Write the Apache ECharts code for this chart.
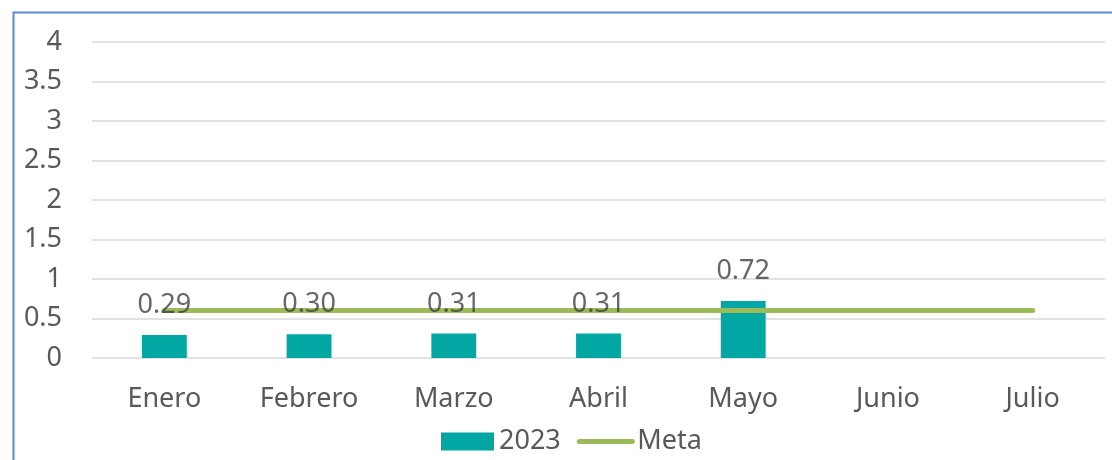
<!DOCTYPE html>
<html>
<head>
<meta charset="utf-8">
<script src="https://cdn.jsdelivr.net/npm/echarts@6/dist/echarts.min.js"></script>
<style>
  html, body { margin: 0; padding: 0; background: #fff; }
  #chart { width: 1112px; height: 460px; }
</style>
</head>
<body>
<div id="chart"></div>
<script>
// datos del grafico
var meses = ['Enero', 'Febrero', 'Marzo', 'Abril', 'Mayo', 'Junio', 'Julio'];
var valores2023 = [0.29, 0.30, 0.31, 0.31, 0.72, null, null];
var meta = [0.6, 0.6, 0.6, 0.6, 0.6, 0.6, 0.6];
var yTicks = [0, 0.5, 1, 1.5, 2, 2.5, 3, 3.5, 4];

var fuente = 'Noto Sans';
var gris = '#595959';
var tam = 27;

var myChart = echarts.init(document.getElementById('chart'));
myChart.setOption({
  animation: false,
  textStyle: { fontFamily: fuente },
  graphic: [{
    type: 'rect',
    left: 11, top: 10,
    shape: { width: 1200, height: 600 },
    style: { fill: 'none', stroke: '#5B8BD0', lineWidth: 2 },
    z: 0
  }],
  grid: { left: 92, right: 7, top: 42, bottom: 102 },
  legend: {
    left: 436,
    top: 423,
    itemWidth: 53,
    itemHeight: 18,
    itemGap: 16,
    textStyle: { fontSize: tam, color: gris, fontFamily: fuente },
    data: [
      { name: '2023', icon: 'rect' },
      {
        name: 'Meta',
        itemStyle: { color: 'rgba(0,0,0,0)', borderWidth: 0 },
        lineStyle: { color: '#9BBB59', width: 5, cap: 'round' }
      }
    ]
  },
  xAxis: {
    type: 'category',
    data: meses,
    axisLine: { show: false },
    axisTick: { show: false },
    axisLabel: { fontSize: tam, color: gris, margin: 28 }
  },
  yAxis: {
    type: 'value',
    min: yTicks[0],
    max: yTicks[yTicks.length - 1],
    interval: 0.5,
    axisLine: { show: false },
    axisTick: { show: false },
    axisLabel: { fontSize: tam, color: gris, margin: 30 },
    splitLine: { lineStyle: { color: '#D9D9D9', width: 1.5 } }
  },
  series: [
    {
      name: '2023',
      type: 'bar',
      data: valores2023,
      barWidth: '31%',
      itemStyle: { color: '#02A6A3' },
      z: 2
    },
    {
      name: 'Meta',
      type: 'line',
      data: meta,
      symbol: 'none',
      lineStyle: { color: '#9BBB59', width: 5, cap: 'round' },
      itemStyle: { color: '#9BBB59' },
      z: 3
    },
    {
      // etiquetas de datos encima de la linea
      name: 'etiquetas',
      type: 'scatter',
      data: valores2023,
      symbolSize: 0,
      silent: true,
      z: 5,
      label: {
        show: true,
        position: 'top',
        distance: 16,
        fontSize: tam,
        color: '#404040',
        formatter: function (p) { return p.value.toFixed(2); }
      }
    }
  ]
});
</script>
</body>
</html>
